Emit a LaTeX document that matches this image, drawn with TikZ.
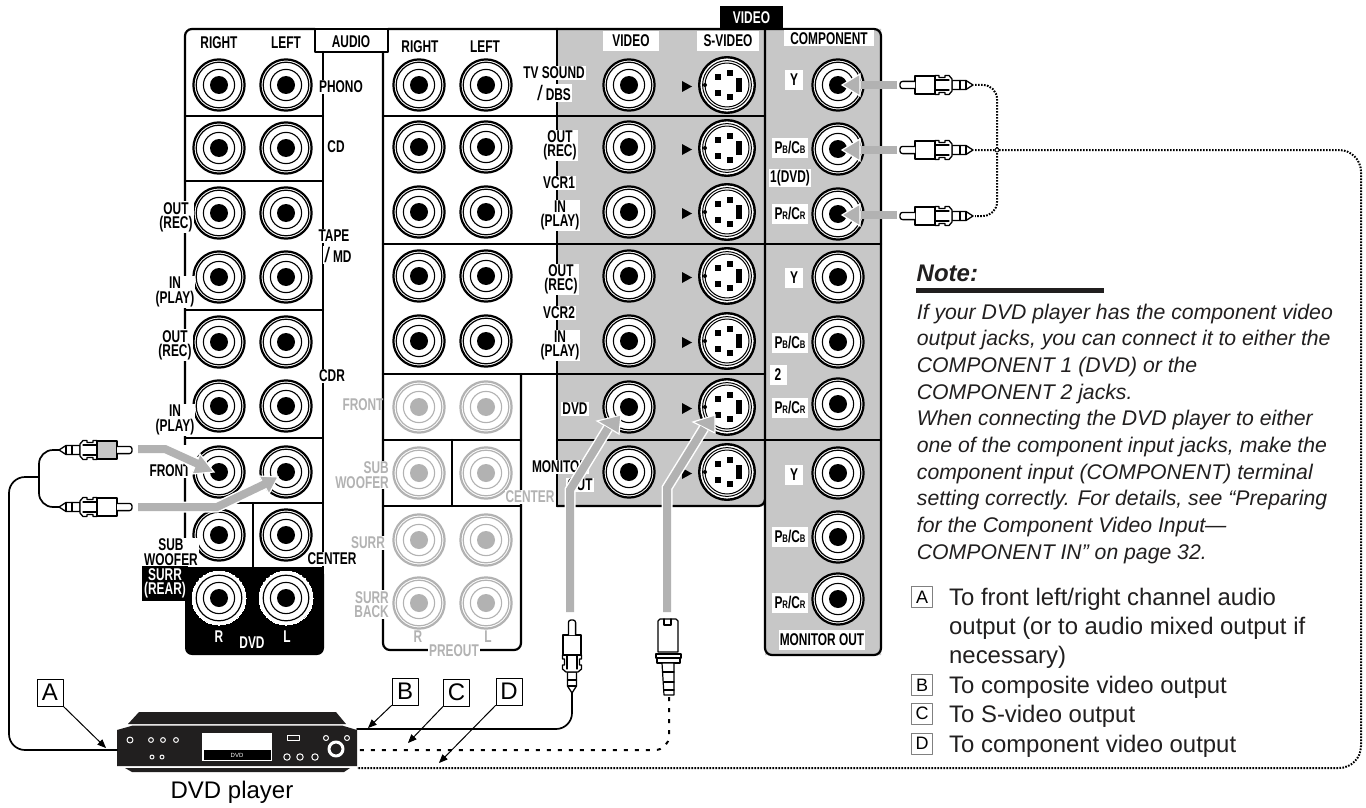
\documentclass[tikz,border=0pt]{standalone}
\usepackage{fontspec}
\setmainfont{Liberation Sans}
\newfontfamily\labfont[FakeStretch=0.7]{Liberation Sans}
\usetikzlibrary{arrows}
\definecolor{gry}{rgb}{0.78,0.78,0.78}
\definecolor{lgr}{rgb}{0.70,0.70,0.70}
\definecolor{blk}{rgb}{0.13,0.12,0.12}
\tikzset{
  lab/.style={fill=white,inner sep=1pt,align=center,text=black,font=\labfont\fontsize{17}{14.3}\selectfont\bfseries},
  lgrlab/.style={lab,text=lgr},
  blklab/.style={lab,fill=black,text=white},
  fig/.style={draw=black,fill=white,line width=1pt,inner sep=0pt,minimum width=26pt,minimum height=27pt,font=\fontsize{24}{24}\selectfont},
  key/.style={draw=gray,fill=white,line width=1pt,inner sep=0pt,minimum width=21pt,minimum height=21pt,font=\fontsize{18}{18}\selectfont},
  body/.style={inner sep=0pt,anchor=north west,align=left,text=blk},
  panel/.style={line width=2.2pt},
  shaft/.style={lgr,line width=8pt,line cap=butt,line join=miter},
  halo/.style={white,line width=11pt,line cap=butt,line join=miter},
  head/.style={fill=lgr,draw=white,line width=1.2pt,line join=miter},
  wire/.style={line width=1.7pt,line cap=round},
  dashwire/.style={line width=2pt,line cap=butt,dash pattern=on 4pt off 7pt},
  dotwire/.style={line width=2pt,line cap=butt,dash pattern=on 1.6pt off 1.4pt}
}
\newcommand{\jack}[3][black]{
\draw[#1,fill=white,line width=2.2pt] (#2,#3) circle (25.6pt);
\draw[#1,line width=1.2pt] (#2,#3) circle (22.8pt);
\draw[#1,line width=1.1pt] (#2,#3) circle (15.6pt);
\fill[#1] (#2,#3) circle (9pt);
}
\newcommand{\svideo}[2]{
\draw[fill=white,line width=2.4pt] (#1,#2) circle (27.8pt);
\draw[line width=1pt] (#1,#2) circle (24.4pt);
\draw[line width=1pt] (#1,#2) circle (22pt);
\fill (#1-9-3,#2-8-3) rectangle ++(6,6);
\fill (#1+3-3,#2-12-3) rectangle ++(6,6);
\fill (#1-9-3,#2+8-3) rectangle ++(6,6);
\fill (#1+3-3,#2+12-3) rectangle ++(6,6);
\fill (#1+9,#2-7) rectangle ++(6,14);
\fill (#1-22,#2) circle (2pt);
\fill (#1-45,#2-4) -- (#1-35,#2+1.5) -- (#1-45,#2+7) -- cycle;
}
\newcommand{\rca}[4]{
\begin{scope}[shift={(#1,#2)},rotate=#3,line width=1.3pt]
\draw[fill=white] (0,0) -- (7,-4.5) -- (21,-4.5) -- (21,4.5) -- (7,4.5) -- cycle;
\draw (7,-4.5) -- (7,4.5) (13,-4.5) -- (13,4.5);
\draw[fill=white] (21,-6) -- (24,-9.5) -- (28,-9.5) -- (28,-7.5) -- (34,-7.5) -- (34,-9.5) -- (38,-9.5) -- (38,9.5) -- (34,9.5) -- (34,7.5) -- (28,7.5) -- (28,9.5) -- (24,9.5) -- (21,6) -- cycle;
\draw (24,-5) -- (38,-5) (24,5) -- (38,5);
\draw[fill=#4] (38,-9) rectangle (58,9);
\draw[fill=white,rounded corners=2.5pt] (58,-3.6) -- (73,-3.6) -- (73,3.6) -- (58,3.6);
\end{scope}
}
\newcommand{\pbcb}{P{\fontsize{11}{11}\selectfont B}/C{\fontsize{11}{11}\selectfont B}}
\newcommand{\prcr}{P{\fontsize{11}{11}\selectfont R}/C{\fontsize{11}{11}\selectfont R}}
\begin{document}
\begin{tikzpicture}[line cap=round,line join=round,>=triangle 45,x=1pt,y=-1pt]
\useasboundingbox (0,0) rectangle (1366,808);
\fill[white] (0,0) rectangle (1366,808);
\fill[gry] (557,29) -- (881,29) -- (881,655) -- (765,655) -- (765,506) -- (557,506) -- cycle;
\draw[panel,rounded corners=7pt] (315,29) -- (185,29) -- (185,580);
\draw[panel] (315,29) -- (315,52) -- (388,52) -- (388,29) -- cycle;
\draw[panel,rounded corners=7pt] (388,29) -- (881,29) -- (881,655) -- (765,655) -- (765,500);
\draw[panel] (323,52) -- (323,567);
\draw[panel] (185,116) -- (323,116);
\draw[panel] (185,181) -- (323,181);
\draw[panel] (185,310) -- (323,310);
\draw[panel] (185,438) -- (323,438);
\draw[panel] (185,503) -- (323,503);
\draw[panel] (253,503) -- (253,567);
\draw[panel,rounded corners=7pt] (383,52) -- (383,650) -- (521,650) -- (521,374);
\draw[panel] (383,116) -- (765,116);
\draw[panel] (383,244) -- (881,244);
\draw[panel] (383,374) -- (765,374);
\draw[panel] (383,440) -- (521,440);
\draw[panel] (383,506) -- (521,506);
\draw[panel] (452,440) -- (452,506);
\draw[panel] (557,29) -- (557,506);
\draw[panel] (557,440) -- (881,440);
\draw[panel,rounded corners=7pt] (557,506) -- (765,506) -- (765,29);
\fill[black,rounded corners=7pt] (185,567) rectangle (324,655);
\fill[black] (185,567) rectangle (324,600);
\jack{219}{85}
\jack{286}{85}
\jack{219}{148}
\jack{286}{148}
\jack{219}{213}
\jack{286}{213}
\jack{219}{277}
\jack{286}{277}
\jack{219}{342}
\jack{286}{342}
\jack{219}{406}
\jack{286}{406}
\jack{219}{472}
\jack{286}{472}
\jack{219}{535}
\jack{286}{535}
\draw[white,fill=white,line width=0pt] (219,598) circle (27pt);
\draw[white,fill=white,line width=0pt] (286,598) circle (27pt);
\draw[line width=1.2pt] (219,598) circle (22.8pt);
\draw[line width=1.1pt] (219,598) circle (15.6pt);
\fill (219,598) circle (9pt);
\draw[line width=1.2pt] (286,598) circle (22.8pt);
\draw[line width=1.1pt] (286,598) circle (15.6pt);
\fill (286,598) circle (9pt);
\jack{419}{85}
\jack{486}{85}
\jack{419}{147}
\jack{486}{147}
\jack{419}{212}
\jack{486}{212}
\jack{419}{276}
\jack{486}{276}
\jack{419}{341}
\jack{486}{341}
\jack[lgr]{419}{407}
\jack[lgr]{486}{407}
\jack[lgr]{419}{473}
\jack[lgr]{486}{473}
\jack[lgr]{419}{540}
\jack[lgr]{486}{540}
\jack[lgr]{419}{603}
\jack[lgr]{486}{603}
\jack{629}{85}
\jack{629}{147}
\jack{629}{212}
\jack{629}{276}
\jack{629}{341}
\jack{629}{407}
\jack{629}{472}
\svideo{727}{85}
\svideo{727}{148}
\svideo{727}{212}
\svideo{727}{276}
\svideo{727}{341}
\svideo{727}{407}
\svideo{727}{472}
\jack{838}{85}
\jack{838}{149}
\jack{838}{214}
\jack{838}{277}
\jack{838}{342}
\jack{838}{404}
\jack{838}{473}
\jack{838}{537}
\jack{838}{599}
\begin{scope}[every node/.style={lab}]
\node (rightA) at (219,43) {RIGHT};
\node (leftA) at (286,43) {LEFT};
\node[fill=none] (audio) at (351,42) {AUDIO};
\node (rightB) at (420,47) {RIGHT};
\node (leftB) at (485,47) {LEFT};
\node (phono) at (341,87) {PHONO};
\node (cd) at (336,147) {CD};
\node (tape) at (334,236) {TAPE};
\node (md) at (338,255) {{\rmfamily\fontsize{21}{14}\selectfont\mdseries/}\,MD};
\node (tapeout) at (176,217) {OUT\\(REC)};
\node (tapein) at (175,292) {IN\\(PLAY)};
\node (cdrout) at (175,345) {OUT\\(REC)};
\node (cdrin) at (175,420) {IN\\(PLAY)};
\node (cdr) at (332,376) {CDR};
\node (front) at (170,471) {FRONT};
\node (sub) at (171,552) {SUB\\WOOFER};
\node (center) at (332,559) {CENTER};
\node[blklab,minimum width=46pt,minimum height=35pt] (surr) at (165,583.5) {SURR\\(REAR)};
\node[blklab] (chr) at (219,637) {R};
\node[blklab] (dvdA) at (252,643) {DVD};
\node[blklab] (chl) at (287,637) {L};
\node (tv) at (554,73) {TV SOUND};
\node (dbs) at (554,93) {{\rmfamily\fontsize{21}{14}\selectfont\mdseries/}\,DBS};
\node (vcrAout) at (560,145.5) {OUT\\(REC)};
\node (vcrA) at (559,183) {VCR1};
\node (vcrAin) at (560,215.5) {IN\\(PLAY)};
\node (vcrBout) at (561,279.5) {OUT\\(REC)};
\node (vcrB) at (559,313) {VCR2};
\node (vcrBin) at (560,345.5) {IN\\(PLAY)};
\node (dvdB) at (575,409) {DVD};
\node (mon) at (560,467) {MONITOR};
\node (monout) at (580,485) {OUT};
\node[minimum width=56pt,minimum height=20pt] (video) at (631,41) {VIDEO};
\node[minimum width=62pt,minimum height=20pt] (svid) at (728,41) {S-VIDEO};
\node[blklab,minimum width=63pt,minimum height=23pt] (videoB) at (751.5,17.5) {VIDEO};
\node[minimum width=90pt,minimum height=16pt] (comp) at (829,38.5) {COMPONENT};
\node[minimum width=18pt,minimum height=20pt] (yA) at (794,80) {Y};
\node[minimum width=36pt,minimum height=20pt] (pbA) at (790,148) {\pbcb};
\node (one) at (790,178) {1(DVD)};
\node[minimum width=36pt,minimum height=20pt] (prA) at (790,214) {\prcr};
\node[minimum width=18pt,minimum height=20pt] (yB) at (794,278) {Y};
\node[minimum width=36pt,minimum height=20pt] (pbB) at (790,343) {\pbcb};
\node[minimum width=17pt,minimum height=20pt] (two) at (778,375) {2};
\node[minimum width=36pt,minimum height=20pt] (prB) at (790,408) {\prcr};
\node[minimum width=18pt,minimum height=20pt] (yC) at (794,475) {Y};
\node[minimum width=36pt,minimum height=20pt] (pbC) at (790,537) {\pbcb};
\node[minimum width=36pt,minimum height=20pt] (prC) at (790,603) {\prcr};
\node[minimum width=84pt,minimum height=20pt] (monB) at (822,640) {MONITOR OUT};
\node[lgrlab,fill=none] (frontB) at (363,405) {FRONT};
\node[lgrlab,anchor=east,align=right] (subB) at (390,475) {SUB\\WOOFER};
\node[lgrlab] (centerB) at (530,497) {CENTER};
\node[lgrlab] (surrB) at (368,543) {SURR};
\node[lgrlab,anchor=east,align=right] (backB) at (390,604.5) {SURR\\BACK};
\node[lgrlab,fill=none] (chrB) at (418,637) {R};
\node[lgrlab,fill=none] (chlB) at (488,637) {L};
\node[lgrlab] (preout) at (454,651) {PREOUT};
\end{scope}
\draw[halo] (138,449) -- (165,449) -- (200,464);
\fill[white] (165,445) -- (196,445) -- (196,475) -- cycle;
\filldraw[head] (214,472) -- (200,454) -- (192,474) -- cycle;
\draw[shaft] (138,449) -- (165,449) -- (198,464);
\draw[halo] (138,507) -- (217,507) -- (265,484);
\filldraw[head] (278,477) -- (259,476) -- (269,494) -- cycle;
\draw[shaft] (138,507) -- (217,507) -- (265,484);
\draw[shaft] (897,85) -- (858,85);
\filldraw[head] (842,85) -- (860,74) -- (860,96) -- cycle;
\draw[shaft] (897,150) -- (858,150);
\filldraw[head] (842,150) -- (860,139) -- (860,161) -- cycle;
\draw[shaft] (897,215) -- (858,215);
\filldraw[head] (842,215) -- (860,204) -- (860,226) -- cycle;
\draw[halo] (570,612) -- (570,490) -- (608,428);
\filldraw[head] (621,415) -- (597,421) -- (619,434) -- cycle;
\draw[shaft] (570,612) -- (570,490) -- (608,428);
\draw[halo] (667,612) -- (667,488) -- (704,428);
\filldraw[head] (715,415) -- (693,422) -- (715,433) -- cycle;
\draw[shaft] (667,612) -- (667,488) -- (704,428);
\fill[blk] (128,724) -- (139,712) -- (336,712) -- (346,724) -- cycle;
\fill[blk] (117,730) -- (133,725.5) -- (342,725.5) -- (357,730) -- (357,766) -- (117,766) -- cycle;
\fill[blk] (125,768) -- (350,768) -- (344,772) -- (132,772) -- cycle;
\fill[white] (202,733) rectangle (272,761);
\fill[black] (203.5,750) rectangle (270.5,759.5);
\node[text=white,inner sep=0pt,font=\fontsize{6}{6}\selectfont] (screen) at (237,755) {DVD};
\begin{scope}[white,line width=1pt]
\draw (130,740) circle (3pt);
\draw (151,740) circle (2.4pt);
\draw (163,740) circle (2.4pt);
\draw (176,740) circle (2.4pt);
\draw (152,757) circle (2pt);
\draw (162,757) circle (2pt);
\draw (287.5,735.5) rectangle (299,740.5);
\draw (287,757) circle (3.2pt);
\draw (300,757) circle (3.2pt);
\draw (315,757) circle (3.2pt);
\draw (326,738) circle (2.5pt);
\draw (347,738) circle (2.5pt);
\draw[line width=3pt] (336,749) circle (7pt);
\end{scope}
\node[inner sep=0pt,font=\fontsize{24}{24}\selectfont] (player) at (232,792) {DVD player};
\coordinate (pa) at (117,750);
\coordinate (pb) at (357,729);
\coordinate (pc) at (357,750);
\coordinate (pd) at (357,768);
\draw[wire,rounded corners=16pt] (pa) -- (9,750) -- (9,477) -- (39,477);
\draw[wire,rounded corners=14pt] (59,450) -- (39,450) -- (39,507) -- (59,507);
\draw[wire,rounded corners=16pt] (572,693) -- (572,729) -- (pb);
\draw[dashwire,rounded corners=14pt] (669,697) -- (669,750) -- (pc);
\draw[dotwire,rounded corners=14pt] (975,85) -- (997,85) -- (997,216) -- (975,216);
\draw[dotwire,rounded corners=22pt] (975,150) -- (1361,150) -- (1361,768) -- (pd);
\draw[fill=white,line width=.8pt] (997,150) circle (2pt);
\rca{59}{450}{0}{gry}
\rca{59}{507}{0}{white}
\rca{973}{85}{180}{white}
\rca{973}{150}{180}{white}
\rca{973}{216}{180}{white}
\rca{572}{693}{90}{white}
\begin{scope}[line width=1.2pt]
\draw[fill=white] (658,652) -- (658,621) -- (660,619) -- (676,619) -- (678,621) -- (678,652) -- cycle;
\draw (664,619) -- (664,625) -- (671,625) -- (671,619);
\draw[fill=white] (656,654) rectangle (681,658);
\draw[fill=white] (657,658) rectangle (680,663);
\draw[fill=white] (662,663) -- (674,663) -- (674,695) -- (664,695) -- cycle;
\draw (663,672) -- (674,672) (664,682) -- (674,682) (664,690) -- (674,690);
\end{scope}
\node[fig] (figa) at (50,692.5) {A};
\node[fig] (figb) at (405,691.5) {B};
\node[fig] (figc) at (456.5,692.5) {C};
\node[fig] (figd) at (509,691.5) {D};
\coordinate (tipa) at (106,748);
\coordinate (tipb) at (368,728);
\coordinate (tipc) at (408,743);
\coordinate (tipd) at (439,763);
\draw[->,line width=1pt] (figa.south east) -- (tipa);
\draw[->,line width=1pt] (figb.south west) -- (tipb);
\draw[->,line width=1pt] (figc.south west) -- (tipc);
\draw[->,line width=1pt] (figd.south west) -- (tipd);
\node[inner sep=0pt,anchor=west,text=blk,font=\fontsize{24}{24}\selectfont\bfseries\itshape] (note) at (916.5,273) {Note:};
\fill[blk] (916,288) rectangle (1104,293);
\node[body,font=\fontsize{21.2}{26.67}\selectfont\itshape] (notetext) at (916.7,303.5) {If your DVD player has the component video\\output jacks, you can connect it to either the\\COMPONENT 1 (DVD) or the\\COMPONENT 2 jacks.\\When connecting the DVD player to either\\one of the component input jacks, make the\\component input (COMPONENT) terminal\\setting correctly. For details, see “Preparing\\for the Component Video Input—\\COMPONENT IN” on page 32.};
\node[key] (keya) at (922,597) {A};
\node[key] (keyb) at (922,685) {B};
\node[key] (keyc) at (922,713.5) {C};
\node[key] (keyd) at (922,743.5) {D};
\node[body,font=\fontsize{23.9}{29.4}\selectfont] (keytext) at (949,587.5) {To front left/right channel audio\\output (or to audio mixed output if\\necessary)\\To composite video output\\To S-video output\\To component video output};
\end{tikzpicture}
\end{document}
